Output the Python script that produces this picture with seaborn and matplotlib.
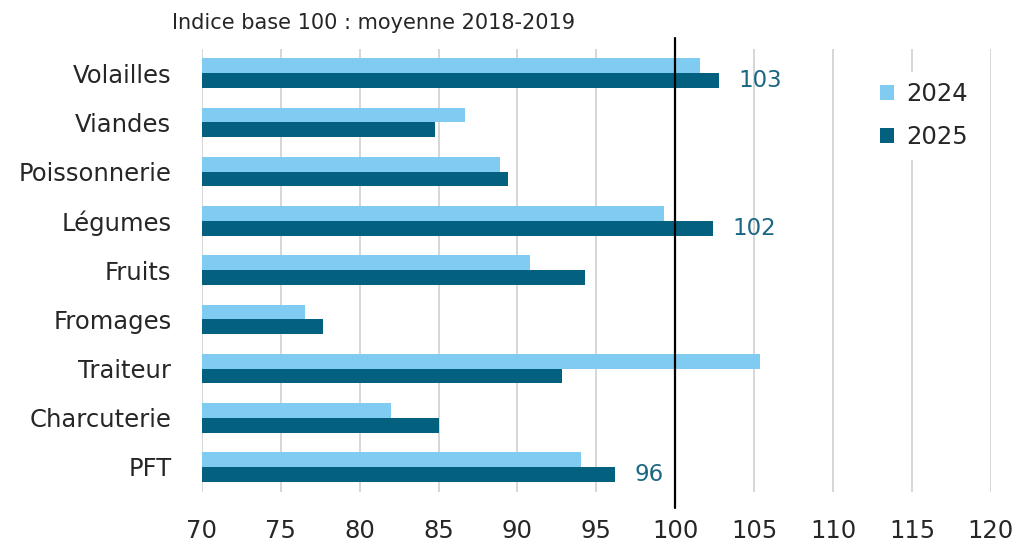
import pandas as pd
import seaborn as sns
import matplotlib.pyplot as plt
from matplotlib.patches import Patch

categories = ['Volailles', 'Viandes', 'Poissonnerie', 'Légumes', 'Fruits',
              'Fromages', 'Traiteur', 'Charcuterie', 'PFT']
vals_2024 = [101.6, 86.7, 88.9, 99.3, 90.8, 76.5, 105.4, 82.0, 94.0]
vals_2025 = [102.8, 84.8, 89.4, 102.4, 94.3, 77.7, 92.8, 85.0, 96.2]
labelled = ['Volailles', 'Légumes', 'PFT']
years = ['2024', '2025']
colors = ['#7fcbf1', '#04607f']
xticks = [70, 75, 80, 85, 90, 95, 100, 105, 110, 115, 120]


def main():
    df = pd.DataFrame({
        'cat': categories * 2,
        'val': vals_2024 + vals_2025,
        'year': [years[0]] * len(categories) + [years[1]] * len(categories),
    })

    sns.set_theme(style="white")
    plt.rcParams['font.family'] = ['DejaVu Sans']
    text_col = '#262626'

    fig = plt.figure(figsize=(10.17, 5.45), dpi=100)
    ax = fig.add_axes([0.1986, 0.098, 0.7756, 0.813])

    sns.barplot(data=df, x='val', y='cat', hue='year', orient='h',
                palette=colors, width=0.6, ax=ax, legend=False,
                saturation=1, linewidth=0)

    ax.set_xlim(70, 120)
    ax.set_xticks(xticks)
    ax.set_xlabel('')
    ax.set_ylabel('')
    for s in ax.spines.values():
        s.set_visible(False)
    ax.grid(axis='x', color='#d6d6d6', linewidth=1.4)
    ax.set_axisbelow(True)
    ax.tick_params(axis='x', length=0, pad=20, labelsize=17.5, labelcolor=text_col)
    ax.tick_params(axis='y', length=0, pad=22, labelsize=17.5, labelcolor=text_col)

    # reference line at 100
    ax.axvline(100, ymin=-0.037, ymax=1.023, color='black', linewidth=1.6,
               clip_on=False, zorder=5)

    # value labels on selected 2025 bars
    labels = [str(round(v)) if c in labelled else ''
              for c, v in zip(categories, vals_2025)]
    ax.bar_label(ax.containers[1], labels=labels, padding=14,
                 fontsize=16.5, color='#1b6782')

    handles = [Patch(facecolor=c, edgecolor='none') for c in colors]
    leg = ax.legend(handles, years, loc='upper left',
                    bbox_to_anchor=(858 / 1017, 1 - 60 / 545),
                    bbox_transform=fig.transFigure,
                    frameon=True, fontsize=17.5, handlelength=0.6,
                    handleheight=0.6, handletextpad=0.5, labelspacing=0.8,
                    borderpad=0.4)
    leg.get_frame().set_facecolor('white')
    leg.get_frame().set_edgecolor('white')
    leg.get_frame().set_alpha(1)
    for t in leg.get_texts():
        t.set_color(text_col)

    fig.text(172 / 1017, 1 - 23 / 545, 'Indice base 100 : moyenne 2018-2019',
             fontsize=15, color=text_col, va='center', ha='left')

    fig.savefig('out.png', dpi=100)
    plt.close(fig)


if __name__ == '__main__':
    main()
